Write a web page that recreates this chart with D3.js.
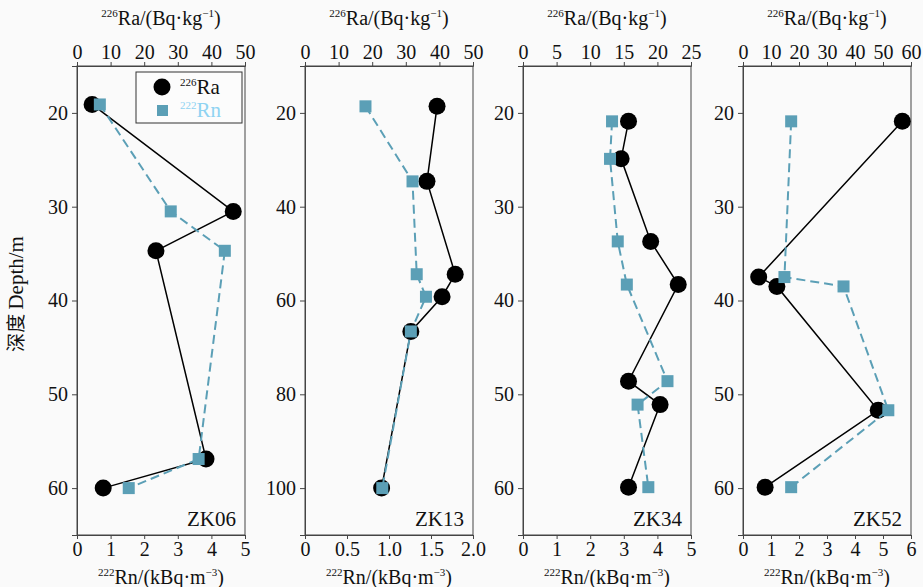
<!DOCTYPE html>
<html>
<head>
<meta charset="utf-8">
<script src="https://cdn.jsdelivr.net/npm/d3@7"></script>
<style>
  body { margin: 0; background: #fafafa; }
  svg { display: block; }
  svg text { font-family: "Liberation Serif", "Times New Roman", "DejaVu Serif", serif; }
</style>
</head>
<body>
<script>
// drill holes
const holes = ["ZK06", "ZK13", "ZK34", "ZK52"];

// depth (m), 226Ra (Bq/kg), 222Rn (kBq/m3)
const depthZK06 = [19.1, 30.5, 34.7, 56.9, 60.0];
const raZK06 = [4.5, 46.5, 23.5, 38.4, 7.8];
const rnZK06 = [0.68, 2.79, 4.40, 3.62, 1.54];

const depthZK13 = [18.6, 34.6, 54.4, 59.2, 66.6, 100];
const raZK13 = [39.3, 36.3, 44.7, 40.8, 31.5, 22.8];
const rnZK13 = [0.72, 1.28, 1.33, 1.44, 1.26, 0.92];

const depthZK34 = [20.9, 24.9, 33.7, 38.3, 48.6, 51.1, 59.9];
const raZK34 = [15.7, 14.6, 19.0, 23.1, 15.7, 20.4, 15.7];
const rnZK34 = [2.65, 2.59, 2.82, 3.09, 4.30, 3.41, 3.73];

const depthZK52 = [20.9, 37.5, 38.5, 51.7, 59.9];
const raZK52 = [56.9, 5.6, 12.1, 48.3, 7.9];
const rnZK52 = [1.72, 1.48, 3.59, 5.19, 1.72];

// axis setup per panel
const raTicks = [[0, 10, 20, 30, 40, 50], [0, 10, 20, 30, 40, 50], [0, 5, 10, 15, 20, 25], [0, 10, 20, 30, 40, 50, 60]];
const rnTicks = [[0, 1, 2, 3, 4, 5], [0, 0.5, 1.0, 1.5, 2.0], [0, 1, 2, 3, 4, 5], [0, 1, 2, 3, 4, 5, 6]];
const depthTicks = [[20, 30, 40, 50, 60], [20, 40, 60, 80, 100], [20, 30, 40, 50, 60], [20, 30, 40, 50, 60]];
const depthDomains = [[15, 65], [10, 110], [15, 65], [15, 65]];

const panelData = [
  { depth: depthZK06, ra: raZK06, rn: rnZK06 },
  { depth: depthZK13, ra: raZK13, rn: rnZK13 },
  { depth: depthZK34, ra: raZK34, rn: rnZK34 },
  { depth: depthZK52, ra: raZK52, rn: rnZK52 }
];

const width = 923, height = 587;
const lefts = [77, 305, 523, 743];
const panelW = 168;
const plotTop = 66, plotBottom = 535;
const rnColor = "#5b9fb6";
const axisColor = "#444";
const serif = "Liberation Serif, Times New Roman, DejaVu Serif, serif";

const svg = d3.select("body").append("svg")
  .attr("width", width)
  .attr("height", height);

// text with superscript pieces (shift in px so it does not drift)
const supText = (sel, parts, supSize, shift) => {
  let up = false;
  parts.forEach(p => {
    const ts = sel.append("tspan").text(p.text);
    if (p.sup) {
      ts.attr("font-size", supSize).attr("dy", up ? 0 : -shift);
      up = true;
    } else {
      ts.attr("dy", up ? shift : 0);
      up = false;
    }
  });
};

holes.forEach((name, i) => {
  const d = panelData[i];
  const rows = d.depth.map((dep, k) => ({ depth: dep, ra: d.ra[k], rn: d.rn[k] }));
  const x0 = lefts[i];

  const yScale = d3.scaleLinear().domain(depthDomains[i]).range([plotTop, plotBottom]);
  const raScale = d3.scaleLinear().domain([0, d3.max(raTicks[i])]).range([x0, x0 + panelW]);
  const rnScale = d3.scaleLinear().domain([0, d3.max(rnTicks[i])]).range([x0, x0 + panelW]);

  const g = svg.append("g");

  g.append("rect")
    .attr("x", x0).attr("y", plotTop)
    .attr("width", panelW).attr("height", plotBottom - plotTop)
    .attr("fill", "#fafafa")
    .attr("stroke", axisColor)
    .attr("stroke-width", 1);

  const fmtRn = i == 1 ? (v => v == 0 ? "0" : d3.format(".1f")(v)) : d3.format("d");

  const topAxis = g.append("g")
    .attr("transform", `translate(0, ${plotTop})`)
    .call(d3.axisTop(raScale).tickValues(raTicks[i]).tickSize(4).tickPadding(3).tickFormat(d3.format("d")));
  const bottomAxis = g.append("g")
    .attr("transform", `translate(0, ${plotBottom})`)
    .call(d3.axisBottom(rnScale).tickValues(rnTicks[i]).tickSize(4).tickPadding(3).tickFormat(fmtRn));
  const leftAxis = g.append("g")
    .attr("transform", `translate(${x0}, 0)`)
    .call(d3.axisLeft(yScale).tickValues(depthTicks[i]).tickSize(5).tickPadding(4));

  [topAxis, bottomAxis, leftAxis].forEach(a => {
    a.attr("font-family", serif);
    a.select(".domain").attr("stroke", axisColor);
    a.selectAll(".tick line").attr("stroke", axisColor);
    a.selectAll(".tick text")
      .attr("fill", "#111")
      .attr("font-size", 20);
  });

  // axis titles
  const topTitle = g.append("text")
    .attr("x", x0 + panelW / 2).attr("y", 25)
    .attr("text-anchor", "middle")
    .attr("font-size", 20).attr("fill", "#111");
  supText(topTitle, [{ text: "226", sup: true }, { text: "Ra/(Bq·kg" }, { text: "−1", sup: true }, { text: ")" }], 11, 8);

  const botTitle = g.append("text")
    .attr("x", x0 + panelW / 2).attr("y", 584)
    .attr("text-anchor", "middle")
    .attr("font-size", 20).attr("fill", "#111");
  supText(botTitle, [{ text: "222", sup: true }, { text: "Rn/(kBq·m" }, { text: "−3", sup: true }, { text: ")" }], 11, 8);

  // 226Ra : black solid line, circles
  const raLine = d3.line().x(r => raScale(r.ra)).y(r => yScale(r.depth));
  g.append("path")
    .datum(rows)
    .attr("fill", "none")
    .attr("stroke", "#000")
    .attr("stroke-width", 1.5)
    .attr("d", raLine);
  g.selectAll(".ra-dot")
    .data(rows)
    .enter().append("circle")
    .attr("class", "ra-dot")
    .attr("cx", r => raScale(r.ra))
    .attr("cy", r => yScale(r.depth))
    .attr("r", 8.5)
    .attr("fill", "#000");

  // 222Rn : blue dashed line, squares
  const rnLine = d3.line().x(r => rnScale(r.rn)).y(r => yScale(r.depth));
  g.append("path")
    .datum(rows)
    .attr("fill", "none")
    .attr("stroke", rnColor)
    .attr("stroke-width", 2)
    .attr("stroke-dasharray", "9,5")
    .attr("d", rnLine);
  g.selectAll(".rn-dot")
    .data(rows)
    .enter().append("rect")
    .attr("class", "rn-dot")
    .attr("x", r => rnScale(r.rn) - 6)
    .attr("y", r => yScale(r.depth) - 6)
    .attr("width", 12).attr("height", 12)
    .attr("fill", rnColor);

  // hole label
  g.append("text")
    .attr("x", x0 + panelW - 9).attr("y", plotBottom - 9)
    .attr("text-anchor", "end")
    .attr("font-size", 21)
    .attr("fill", "#111")
    .text(name);

  if (i == 0) {
    // legend
    const lg = g.append("g");
    lg.append("rect")
      .attr("x", 136).attr("y", 72)
      .attr("width", 106).attr("height", 51)
      .attr("fill", "#fcfcfc")
      .attr("stroke", "#333").attr("stroke-width", 1);
    lg.append("circle").attr("cx", 162).attr("cy", 87).attr("r", 8.5).attr("fill", "#000");
    lg.append("rect").attr("x", 157).attr("y", 105).attr("width", 11).attr("height", 11).attr("fill", rnColor);
    const t1 = lg.append("text").attr("x", 180).attr("y", 94).attr("font-size", 21).attr("fill", "#111");
    supText(t1, [{ text: "226", sup: true }, { text: "Ra" }], 11, 8);
    const t2 = lg.append("text").attr("x", 180).attr("y", 117).attr("font-size", 21).attr("fill", "#8fd3f2");
    supText(t2, [{ text: "222", sup: true }, { text: "Rn" }], 11, 8);
  }
});

// shared y title
svg.append("text")
  .attr("transform", "translate(23, 294) rotate(-90)")
  .attr("text-anchor", "middle")
  .attr("font-size", 21)
  .attr("fill", "#111")
  .call(t => {
    t.append("tspan").attr("font-family", "Noto Sans CJK SC").attr("font-size", 19).text("深度 ");
    t.append("tspan").text("Depth/m");
  });
</script>
</body>
</html>
